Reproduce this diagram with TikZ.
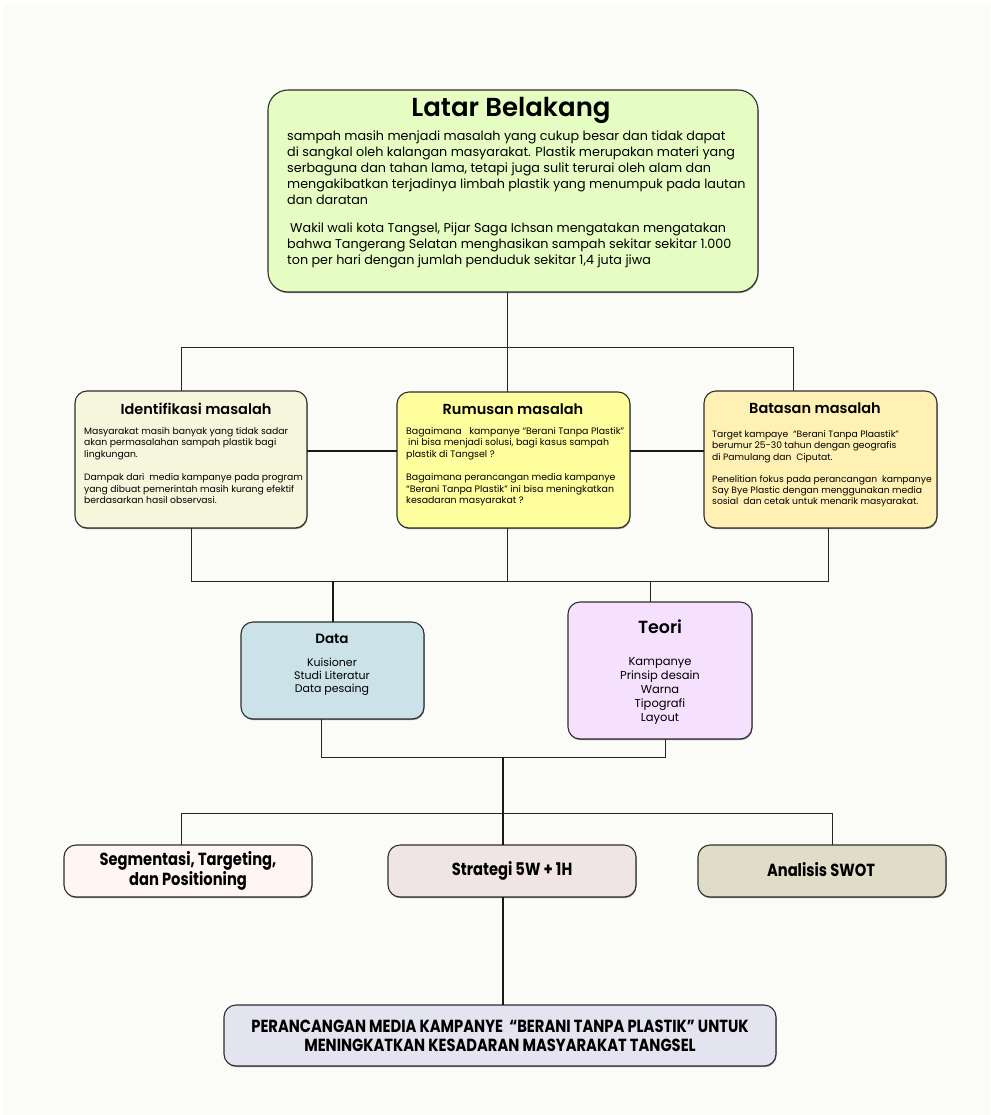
\documentclass[tikz,border=0pt]{standalone}
\usepackage{fontspec}
\setmainfont{Poppins}[BoldFont={Poppins SemiBold}]
\newfontfamily\condbold{Poppins Bold}[FakeStretch=0.84]
\usetikzlibrary{shadows}
\definecolor{bgc}{HTML}{FBFCF7}
\definecolor{bordc}{HTML}{2E2E2E}
\definecolor{clb}{HTML}{E5FCC2}
\definecolor{cid}{HTML}{F6F6DC}
\definecolor{crm}{HTML}{FFFE9D}
\definecolor{cbm}{HTML}{FFF0B4}
\definecolor{cda}{HTML}{CAE2E8}
\definecolor{cte}{HTML}{F5E1FE}
\definecolor{cst}{HTML}{FFF5F3}
\definecolor{csg}{HTML}{F1E4E4}
\definecolor{csw}{HTML}{DFDDC8}
\definecolor{cfin}{HTML}{E4E3F0}
\tikzset{
  box/.style={draw=bordc, line width=1.1pt, rounded corners=12pt, inner sep=0pt, outer sep=0pt,
    drop shadow={shadow xshift=0.6pt, shadow yshift=-1.2pt, opacity=0.55, fill=black!80}},
  conn/.style={draw=black!85, line width=1pt},
  tconn/.style={draw=black!90, line width=1.8pt},
  body/.style={inner sep=0pt, anchor=north west, align=left},
  ctr/.style={inner sep=0pt, align=center},
}
\begin{document}
\begin{tikzpicture}[x=1pt,y=-1pt]
\useasboundingbox (0,0) rectangle (990,1115);
\fill[white] (0,0) rectangle (990,1115);
\fill[bgc] (3,5) rectangle (990,1115);

% boxes
\node[box, fill=clb, rounded corners=20pt, minimum width=490pt, minimum height=202pt] (lb) at (513,191) {};
\node[box, fill=cid, minimum width=232pt, minimum height=137pt] (id) at (191,459.5) {};
\node[box, fill=crm, minimum width=233pt, minimum height=136pt] (rm) at (513.5,460) {};
\node[box, fill=cbm, minimum width=233pt, minimum height=137pt] (bm) at (820.5,459.5) {};
\node[box, fill=cda, minimum width=183pt, minimum height=97pt] (da) at (332.5,670.5) {};
\node[box, fill=cte, minimum width=184pt, minimum height=137pt] (te) at (660,670.5) {};
\node[box, fill=cst, minimum width=248pt, minimum height=52pt] (st) at (188,871) {};
\node[box, fill=csg, minimum width=248pt, minimum height=52pt] (sg) at (512,871) {};
\node[box, fill=csw, minimum width=248pt, minimum height=52pt] (sw) at (822,871) {};
\node[box, fill=cfin, minimum width=552pt, minimum height=61pt] (fin) at (500,1035.5) {};

% junctions
\coordinate (j1) at (507,347);
\coordinate (j1l) at (181,347);
\coordinate (j1r) at (793,347);
\coordinate (h) at (350,451);
\coordinate (j2) at (507,581);
\coordinate (j2l) at (191,581);
\coordinate (j2r) at (828,581);
\coordinate (j2a) at (333,581);
\coordinate (j2b) at (650,581);
\coordinate (j3) at (503,757);
\coordinate (j3l) at (321,757);
\coordinate (j3r) at (665,757);
\coordinate (j4) at (503,813);
\coordinate (j4l) at (181,813);
\coordinate (j4r) at (832,813);

% connectors
\draw[conn] (lb.south -| j1) -- (j1);
\draw[conn] (j1l) -- (j1r);
\draw[conn] (j1l) -- (id.north -| j1l);
\draw[conn] (j1r) -- (bm.north -| j1r);
\draw[conn] (j1) -- (rm.north -| j1);
\draw[tconn] (id.east |- h) -- (rm.west |- h);
\draw[tconn] (rm.east |- h) -- (bm.west |- h);
\draw[conn] (id.south -| j2l) -- (j2l) -- (j2r) -- (bm.south -| j2r);
\draw[conn] (rm.south -| j2) -- (j2);
\draw[tconn] (j2a) -- (da.north -| j2a);
\draw[conn] (j2b) -- (te.north -| j2b);
\draw[conn] (da.south -| j3l) -- (j3l) -- (j3r) -- (te.south -| j3r);
\draw[tconn] (j3) -- (j4);
\draw[conn] (j4l) -- (j4r);
\draw[conn] (j4l) -- (st.north -| j4l);
\draw[conn] (j4r) -- (sw.north -| j4r);
\draw[tconn] (j4) -- (sg.north -| j4);
\draw[tconn] (sg.south -| j4) -- (fin.north -| j4);

% texts
\node[ctr, font=\bfseries\fontsize{26}{30}\selectfont] (tlb) at (511,110) {Latar Belakang};
\node[body, font=\fontsize{12.75}{15.8}\selectfont] (xlb) at (287,131) {sampah masih menjadi masalah yang cukup besar dan tidak dapat\\
di sangkal oleh kalangan masyarakat. Plastik merupakan materi yang\\
serbaguna dan tahan lama, tetapi juga sulit terurai oleh alam dan\\
mengakibatkan terjadinya limbah plastik yang menumpuk pada lautan\\
dan daratan\\[13pt]
\hspace*{3pt}Wakil wali kota Tangsel, Pijar Saga Ichsan mengatakan mengatakan\\
bahwa Tangerang Selatan menghasikan sampah sekitar sekitar 1.000\\
ton per hari dengan jumlah penduduk sekitar 1,4 juta jiwa};

\node[ctr, font=\bfseries\fontsize{14.5}{17}\selectfont] (tid) at (196,409) {Identifikasi masalah};
\node[body, font=\fontsize{9.25}{11.6}\selectfont] (xid) at (84,427) {Masyarakat masih banyak yang tidak sadar\\
akan permasalahan sampah plastik bagi\\
lingkungan.\\[11.6pt]
Dampak dari\ \ media kampanye pada program\\
yang dibuat pemerintah masih kurang efektif\\
berdasarkan hasil observasi.};

\node[ctr, font=\bfseries\fontsize{14.5}{17}\selectfont] (trm) at (513,409) {Rumusan masalah};
\node[body, font=\fontsize{9.4}{11.6}\selectfont] (xrm) at (406,427) {Bagaimana\ \ \ kampanye “Berani Tanpa Plastik”\\
\hspace*{2pt}ini bisa menjadi solusi, bagi kasus sampah\\
plastik di Tangsel ?\\[11.6pt]
Bagaimana perancangan media kampanye\\
“Berani Tanpa Plastik” ini bisa meningkatkan\\
kesadaran masyarakat ?};

\node[ctr, font=\bfseries\fontsize{14.5}{17}\selectfont] (tbm) at (815,408) {Batasan masalah};
\node[body, font=\fontsize{9.2}{11.2}\selectfont] (xbm) at (712,430.5) {Target kampaye\ \ “Berani Tanpa Plaastik”\\
berumur 25-30 tahun dengan geografis\\
di Pamulang dan\ \ Ciputat.\\[11.2pt]
Penelitian fokus pada perancangan\ \ kampanye\\
Say Bye Plastic dengan menggunakan media\\
sosial\ \ dan cetak untuk menarik masyarakat.};

\node[ctr, font=\bfseries\fontsize{13.5}{15}\selectfont] (tda) at (332,639) {Data};
\node[ctr, font=\fontsize{11}{13}\selectfont, anchor=north] (xda) at (332,658) {Kuisioner\\Studi Literatur\\Data pesaing};

\node[ctr, font=\bfseries\fontsize{17.5}{20}\selectfont] (tte) at (660,627) {Teori};
\node[ctr, font=\fontsize{11.5}{14}\selectfont, anchor=north] (xte) at (660,657) {Kampanye\\Prinsip desain\\Warna\\Tipografi\\Layout};

\node[ctr, font=\condbold\fontsize{17.5}{18.5}\selectfont] (xst) at (188,871) {Segmentasi, Targeting,\\dan Positioning};
\node[ctr, font=\condbold\fontsize{17.5}{18.5}\selectfont] (xsg) at (512,871) {Strategi 5W + 1H};
\node[ctr, font=\condbold\fontsize{17.5}{18.5}\selectfont] (xsw) at (821,870) {Analisis SWOT};
\node[ctr, font=\condbold\fontsize{17.5}{18.5}\selectfont] (xfin) at (500,1036) {PERANCANGAN MEDIA KAMPANYE\ \ “BERANI TANPA PLASTIK” UNTUK\\MENINGKATKAN KESADARAN MASYARAKAT TANGSEL};
\end{tikzpicture}
\end{document}
